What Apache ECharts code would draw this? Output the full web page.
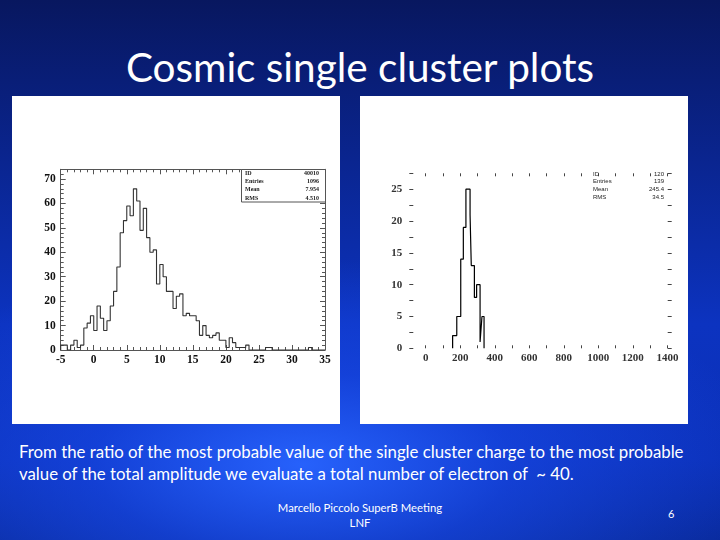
<!DOCTYPE html>
<html><head><meta charset="utf-8">
<script src="https://cdn.jsdelivr.net/npm/echarts@6/dist/echarts.min.js"></script>
<style>
html,body{margin:0;padding:0;width:720px;height:540px;overflow:hidden;}
body{position:relative;font-family:Lato,"Open Sans",sans-serif;color:#fff;
background:
 radial-gradient(ellipse 65% 38% at 42% 86%, rgba(40,100,255,0.95) 0%, rgba(25,75,235,0.6) 45%, rgba(0,0,0,0) 100%),
 linear-gradient(180deg,#08175f 0%,#0a2590 30%,#0c33c0 60%,#0b30b8 85%,#092a9c 100%);}
.panel{position:absolute;background:#fff;}
#title{position:absolute;left:0;width:720px;top:41px;text-align:center;font-size:40.5px;line-height:52px;}
#txt{position:absolute;left:19px;top:441px;font-size:16.8px;line-height:22px;white-space:nowrap;}
#foot{position:absolute;left:260px;width:200px;top:500px;text-align:center;font-size:11.3px;line-height:15px;}
#pg{position:absolute;left:668px;top:507px;font-size:11px;}
#chart{position:absolute;left:0;top:0;width:720px;height:540px;}
</style></head>
<body>
<div id="title">Cosmic single cluster plots</div>
<div class="panel" style="left:12px;top:96px;width:328px;height:328px;"></div>
<div class="panel" style="left:360px;top:96px;width:328px;height:328px;"></div>
<div id="txt">From the ratio of the most probable value of the single cluster charge to the most probable<br>value of the total amplitude we evaluate a total number of electron of &nbsp;~ 40.</div>
<div id="foot">Marcello Piccolo SuperB Meeting<br>LNF</div>
<div id="pg">6</div>
<div id="chart"></div>
<script>
// Left histogram: 80 bins of 0.5 from -5 to 35
const leftStart = -5, leftBin = 0.5;
const leftCounts = [2,2,0,2,4,1,2,9,11,14, 8,18,13,8,12,18,24,34,48,53,
  59,55,66,61,49,58,46,40,41,27, 35,30,24,24,17,22,23,14,15,14,
  14,12,6,10,6,5,6,7,4,4, 1,5,3,1,1,1,2,0,0,0,
  0,0,1,1,0,0,0,0,0,0, 0,0,0,0,0,1,0,0,0,0];
const leftXLabels = [-5,0,5,10,15,20,25,30,35];
const leftYLabels = [0,10,20,30,40,50,60,70];
const leftStats = [["ID","40010"],["Entries","1096"],["Mean","7.954"],["RMS","4.510"]];

// Right histogram
const rightEdges = [156,180,203,218,233,257,264,282,295,315,326,338];
const rightCounts = [2,5,14,19,25,21,13,8,10,1,5];
const rightXLabels = [0,200,400,600,800,1000,1200,1400];
const rightYLabels = [0,5,10,15,20,25];
const rightStats = [["ID","120"],["Entries","139"],["Mean","245.4"],["RMS","34.5"]];

const leftData = [[leftStart,0]];
leftCounts.forEach((c,i)=>leftData.push([leftStart+i*leftBin,c]));
leftData.push([leftStart+leftCounts.length*leftBin,leftCounts[leftCounts.length-1]]);
leftData.push([leftStart+leftCounts.length*leftBin,0]);

const rightData = [[rightEdges[0],0]];
rightCounts.forEach((c,i)=>rightData.push([rightEdges[i],c]));
rightData.push([rightEdges[rightEdges.length-1],rightCounts[rightCounts.length-1]]);
rightData.push([rightEdges[rightEdges.length-1],0]);

const serifBold = {fontFamily:'"Liberation Serif",serif',fontWeight:'bold',fontSize:11.5,color:'#111'};
const frame = {show:true,onZero:false,lineStyle:{color:'#555',width:1}};
const plain = v => String(v);

function lxAxis(pos, showLabel){
  return {type:'value',gridIndex:0,position:pos,min:-5,max:35,interval:5,
    axisLine:frame,splitLine:{show:false},
    axisTick:{show:true,inside:true,length:5,lineStyle:{color:'#555'}},
    minorTick:{show:true,splitNumber:5,length:3,lineStyle:{color:'#555'}},
    axisLabel:Object.assign({show:showLabel,margin:4,formatter:plain,customValues:leftXLabels},serifBold)};
}
function lyAxis(pos, showLabel){
  return {type:'value',gridIndex:0,position:pos,min:0,max:74,interval:10,
    axisLine:frame,splitLine:{show:false},
    axisTick:{show:true,inside:true,length:5,lineStyle:{color:'#555'}},
    minorTick:{show:true,splitNumber:5,length:3,lineStyle:{color:'#555'}},
    axisLabel:Object.assign({show:showLabel,margin:5,formatter:plain,
      customValues:leftYLabels},serifBold)};
}
const rTickVals = [];
for (let v=0; v<=1400; v+=100) rTickVals.push(v);
const rLabelStyle = {fontFamily:'"Liberation Serif",serif',fontSize:11,fontWeight:'bold',color:'#333'};
function rxAxis(pos, showLabel){
  return {type:'value',gridIndex:1,position:pos,min:-95,max:1425,
    axisLine:{show:false,onZero:false},splitLine:{show:false},
    axisTick:{show:true,inside:true,length:3,customValues:rTickVals,lineStyle:{color:'#444'}},
    axisLabel:Object.assign({show:showLabel,margin:4,formatter:plain,customValues:rightXLabels},rLabelStyle)};
}
function ryAxis(pos, showLabel){
  return {type:'value',gridIndex:1,position:pos,min:0,max:27.5,interval:5,
    axisLine:{show:false,onZero:false},splitLine:{show:false},
    axisTick:{show:true,inside:true,length:4,lineStyle:{color:'#444'}},
    minorTick:{show:true,splitNumber:2,length:4,lineStyle:{color:'#444'}},
    axisLabel:Object.assign({show:showLabel,margin:7,formatter:plain,customValues:rightYLabels},rLabelStyle)};
}

const graphics = [];
// left stats box
graphics.push({type:'rect',shape:{x:241.5,y:169.5,width:84,height:32.5},
  style:{fill:'#fff',stroke:'#555',lineWidth:1},z:10});
leftStats.forEach((r,i)=>{
  const y = 173.5 + i*8.2;
  graphics.push({type:'text',x:245,y:y,style:{text:r[0],font:'bold 6px "Liberation Serif"',fill:'#222',textVerticalAlign:'middle'},z:11});
  graphics.push({type:'text',x:319,y:y,style:{text:r[1],font:'bold 6px "Liberation Serif"',fill:'#222',textAlign:'right',textVerticalAlign:'middle'},z:11});
});
rightStats.forEach((r,i)=>{
  const y = 174 + i*7.8;
  graphics.push({type:'text',x:593,y:y,style:{text:r[0],font:'6px "Liberation Sans"',fill:'#222',textVerticalAlign:'middle'},z:11});
  graphics.push({type:'text',x:664,y:y,style:{text:r[1],font:'6px "Liberation Sans"',fill:'#222',textAlign:'right',textVerticalAlign:'middle'},z:11});
});

const chart = echarts.init(document.getElementById('chart'),null,{renderer:'canvas'});
chart.setOption({
  backgroundColor:'transparent',
  animation:false,
  grid:[
    {left:60.7,top:169.3,width:264.3,height:180.7},
    {left:409.3,top:173.3,width:262.4,height:175}
  ],
  xAxis:[lxAxis('bottom',true),lxAxis('top',false),rxAxis('bottom',true),rxAxis('top',false)],
  yAxis:[lyAxis('left',true),lyAxis('right',false),ryAxis('left',true),ryAxis('right',false)],
  series:[
    {type:'line',xAxisIndex:0,yAxisIndex:0,step:'end',data:leftData,symbol:'none',
      lineStyle:{color:'#333',width:1.1},z:3},
    {type:'line',xAxisIndex:2,yAxisIndex:2,step:'end',data:rightData,symbol:'none',
      lineStyle:{color:'#000',width:1.2},z:3}
  ],
  graphic:graphics
});
</script>
</body></html>
